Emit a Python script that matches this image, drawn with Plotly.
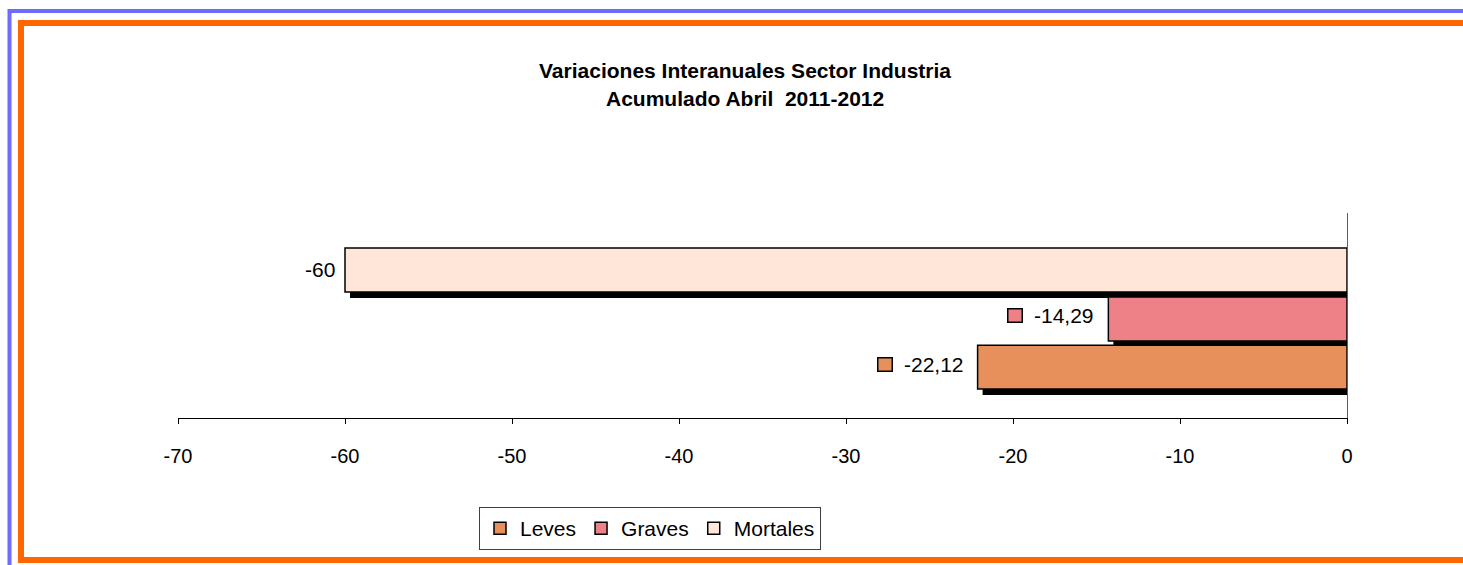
import plotly.graph_objects as go

# ---- data ----
series = ["Leves", "Graves", "Mortales"]
values = [-22.12, -14.29, -60.0]
labels = ["-22,12", "-14,29", "-60"]
colors = ["#E8905C", "#EE8088", "#FFE6D8"]
key_show = [True, True, False]
tick_vals = [-70, -60, -50, -40, -30, -20, -10, 0]
tick_text = ["-70", "-60", "-50", "-40", "-30", "-20", "-10", "0"]
title_lines = ["Variaciones Interanuales Sector Industria", "Acumulado Abril  2011-2012"]

# ---- geometry (pixels) ----
W, H = 1463, 565
L, R, T, B = 178, 116, 213, 147
PW, PH = W - L - R, H - T - B
offsets = [-0.359, -0.124, 0.115]   # category-axis offsets of each bar
bar_w = 0.214
shadow_dx = 0.3                      # value units
shadow_dy = 6 / PH                   # category units
FONT = "Liberation Sans, Arial, sans-serif"

def px(x):
    return (x - L) / PW

def py(y):
    return (H - B - y) / PH

fig = go.Figure()

# shadows
for v, off in zip(values, offsets):
    fig.add_trace(go.Bar(
        y=[0], x=[-(v + shadow_dx)], base=[v + shadow_dx], orientation="h",
        offset=off - shadow_dy, width=bar_w,
        marker=dict(color="#000000", line=dict(width=0)),
        showlegend=False, hoverinfo="skip"))

# bars
for name, v, off, c in zip(series, values, offsets, colors):
    fig.add_trace(go.Bar(
        y=[0], x=[v], orientation="h", name=name,
        offset=off, width=bar_w,
        marker=dict(color=c, line=dict(color="#000000", width=1.5))))

# data labels (+ legend keys)
for name, v, off, lab, c, k in zip(series, values, offsets, labels, colors, key_show):
    yc = off + bar_w / 2
    fig.add_annotation(x=v, y=yc, text=lab, showarrow=False,
                       xanchor="right", xshift=-12 if k else -8, yshift=3 if k else 0,
                       font=dict(family=FONT, size=21, color="#000"))
    if k:
        fig.add_annotation(x=v, y=yc, text="&nbsp;", showarrow=False,
                           xanchor="right", xshift=-85, yshift=3,
                           width=13, height=12, borderpad=0,
                           bgcolor=c, bordercolor="#000000", borderwidth=1.5,
                           font=dict(size=8))

# title
for line, yy in zip(title_lines, [70, 99]):
    fig.add_annotation(xref="paper", yref="paper", x=px(745), y=py(yy),
                       text=f"<b>{line}</b>", showarrow=False,
                       xanchor="center", yanchor="middle",
                       font=dict(family=FONT, size=21, color="#000"))

# frame borders
fig.add_shape(type="rect", xref="paper", yref="paper",
              x0=px(9.5), y0=py(11), x1=px(1500), y1=py(620),
              line=dict(color="#6B6BFF", width=4), layer="below")
fig.add_shape(type="rect", xref="paper", yref="paper",
              x0=px(21), y0=py(23), x1=px(1500), y1=py(560),
              line=dict(color="#FF6600", width=6), layer="below")

fig.update_layout(
    width=W, height=H,
    margin=dict(l=L, r=R, t=T, b=B),
    paper_bgcolor="#FFFFFF", plot_bgcolor="rgba(0,0,0,0)",
    barmode="overlay",
    font=dict(family=FONT, size=20, color="#000"),
    showlegend=True,
    legend=dict(orientation="h", x=px(650), xanchor="center", y=py(507), yanchor="top",
                bordercolor="#404040", borderwidth=1, bgcolor="#FFFFFF",
                font=dict(size=21), traceorder="normal", itemwidth=30),
    xaxis=dict(range=[-70, 0], tickvals=tick_vals, ticktext=tick_text,
               showgrid=False, zeroline=False,
               showline=True, linecolor="#000000", linewidth=1,
               ticks="outside", ticklen=5, tickcolor="#000000",
               tickfont=dict(size=20), ticklabelstandoff=15),
    yaxis=dict(range=[-0.5, 0.5], side="right", showticklabels=False,
               tickvals=[0.5], ticks="inside", ticklen=5, tickcolor="#606060",
               showgrid=False, zeroline=False, showline=True,
               linecolor="#606060", linewidth=1),
)

fig.write_html("out.html", config={"displayModeBar": False},
               post_script="document.body.style.margin='0';document.body.style.overflow='hidden';")
